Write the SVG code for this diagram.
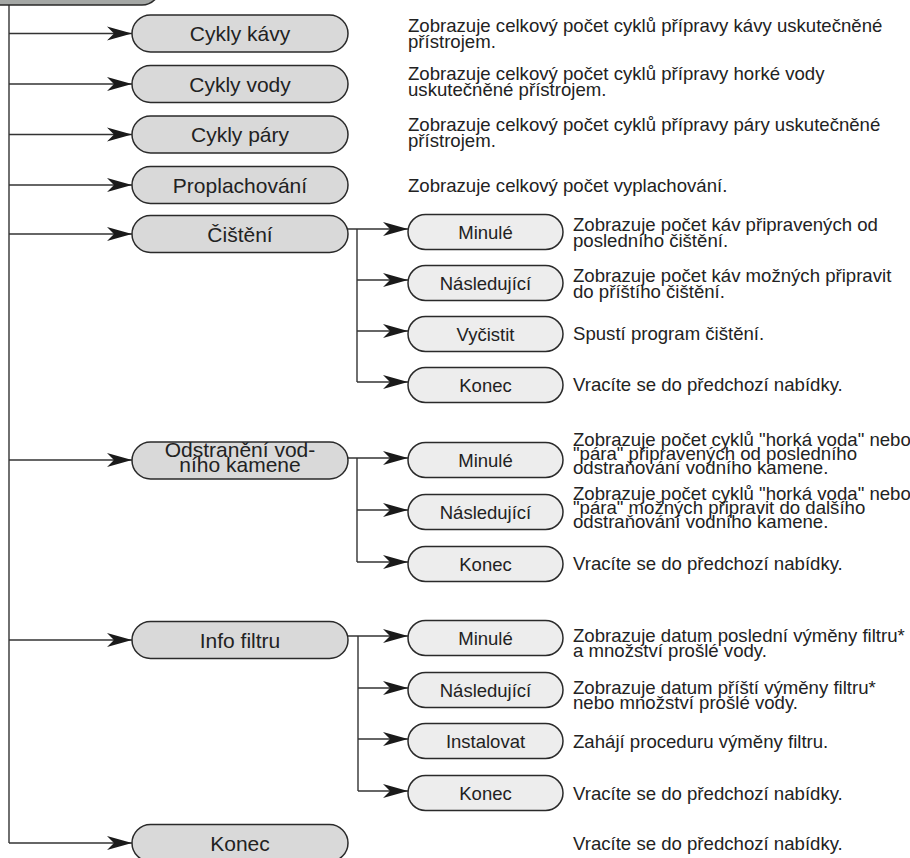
<svg xmlns="http://www.w3.org/2000/svg" width="910" height="858" viewBox="0 0 910 858">
<style>
.bg{fill:#ffffff}
.top{fill:#a4a7a5;stroke:#2a2a2a;stroke-width:1.5}
.main{fill:#d9d9d9;stroke:#2a2a2a;stroke-width:1.5}
.sub{fill:#ededed;stroke:#2a2a2a;stroke-width:1.5}
.ml{font-family:"Liberation Sans",Arial,sans-serif;font-size:21px;fill:#222;text-anchor:middle}
.sl{font-family:"Liberation Sans",Arial,sans-serif;font-size:18.5px;fill:#222;text-anchor:middle}
.d{font-family:"Liberation Sans",Arial,sans-serif;font-size:18.6px;fill:#222}
.c{fill:none;stroke:#333;stroke-width:1.4}
.a{fill:none;stroke:#333;stroke-width:1.4;marker-end:url(#ah)}
</style>
<defs>
<marker id="ah" viewBox="-26 -8 27 16" refX="0" refY="0" markerWidth="27" markerHeight="16" orient="auto" markerUnits="userSpaceOnUse">
<path d="M0,0 L-25,-7 L-18,0 L-25,7 Z" fill="#1a1a1a"/>
</marker>
</defs>
<rect class="bg" x="0" y="0" width="910" height="858"/>

<g id="connectors">
<path class="c" d="M9,5 V843"/>
<path class="a" d="M9,33.5 H132"/>
<path class="a" d="M9,84 H132"/>
<path class="a" d="M9,134.5 H132"/>
<path class="a" d="M9,185 H132"/>
<path class="a" d="M9,234 H132"/>
<path class="a" d="M9,460 H132"/>
<path class="a" d="M9,640 H132"/>
<path class="a" d="M9,843 H132"/>
<path class="a" d="M347,229 H408"/>
<path class="c" d="M357,229 V382"/>
<path class="a" d="M357,280 H408"/>
<path class="a" d="M357,331 H408"/>
<path class="a" d="M357,382 H408"/>
<path class="a" d="M348,458 H408"/>
<path class="c" d="M357,458 V562"/>
<path class="a" d="M357,510 H408"/>
<path class="a" d="M357,562 H408"/>
<path class="a" d="M348,636 H408"/>
<path class="c" d="M358,636 V791"/>
<path class="a" d="M358,688 H408"/>
<path class="a" d="M358,739 H408"/>
<path class="a" d="M358,791 H408"/>
</g>

<g id="top-menu"><rect class="top" x="-40" y="-40" width="200" height="45" rx="18"/></g>

<g id="cykly-kavy"><rect class="main" x="132" y="15" width="216" height="37" rx="18.5"/><text class="ml" x="240" y="41">Cykly kávy</text></g>
<g id="cykly-vody"><rect class="main" x="132" y="65.5" width="216" height="37" rx="18.5"/><text class="ml" x="240" y="91.5">Cykly vody</text></g>
<g id="cykly-pary"><rect class="main" x="132" y="116" width="216" height="37" rx="18.5"/><text class="ml" x="240" y="142">Cykly páry</text></g>
<g id="proplachovani"><rect class="main" x="132" y="166.5" width="216" height="37" rx="18.5"/><text class="ml" x="240" y="192.5">Proplachování</text></g>
<g id="cisteni"><rect class="main" x="132" y="215.5" width="216" height="37" rx="18.5"/><text class="ml" x="240" y="241.5">Čištění</text></g>
<g id="odstraneni"><rect class="main" x="132" y="442" width="216" height="37" rx="18.5"/><text class="ml" x="240" y="457">Odstranění vod-</text><text class="ml" x="240" y="472">ního kamene</text></g>
<g id="info-filtru"><rect class="main" x="132" y="621.5" width="216" height="37" rx="18.5"/><text class="ml" x="240" y="647.5">Info filtru</text></g>
<g id="konec"><rect class="main" x="132" y="824.5" width="216" height="37" rx="18.5"/><text class="ml" x="240" y="850.5">Konec</text></g>

<g id="cis-minule"><rect class="sub" x="408" y="214.5" width="155" height="35" rx="17.5"/><text class="sl" x="485.5" y="238.5">Minulé</text></g>
<g id="cis-nasledujici"><rect class="sub" x="408" y="265.5" width="155" height="35" rx="17.5"/><text class="sl" x="485.5" y="289.5">Následující</text></g>
<g id="cis-vycistit"><rect class="sub" x="408" y="316.5" width="155" height="35" rx="17.5"/><text class="sl" x="485.5" y="340.5">Vyčistit</text></g>
<g id="cis-konec"><rect class="sub" x="408" y="367.5" width="155" height="35" rx="17.5"/><text class="sl" x="485.5" y="391.5">Konec</text></g>

<g id="ods-minule"><rect class="sub" x="408" y="442.5" width="155" height="35" rx="17.5"/><text class="sl" x="485.5" y="466.5">Minulé</text></g>
<g id="ods-nasledujici"><rect class="sub" x="408" y="494.5" width="155" height="35" rx="17.5"/><text class="sl" x="485.5" y="518.5">Následující</text></g>
<g id="ods-konec"><rect class="sub" x="408" y="546.5" width="155" height="35" rx="17.5"/><text class="sl" x="485.5" y="570.5">Konec</text></g>

<g id="inf-minule"><rect class="sub" x="408" y="620.5" width="155" height="35" rx="17.5"/><text class="sl" x="485.5" y="644.5">Minulé</text></g>
<g id="inf-nasledujici"><rect class="sub" x="408" y="672.5" width="155" height="35" rx="17.5"/><text class="sl" x="485.5" y="696.5">Následující</text></g>
<g id="inf-instalovat"><rect class="sub" x="408" y="723.5" width="155" height="35" rx="17.5"/><text class="sl" x="485.5" y="747.5">Instalovat</text></g>
<g id="inf-konec"><rect class="sub" x="408" y="775.5" width="155" height="35" rx="17.5"/><text class="sl" x="485.5" y="799.5">Konec</text></g>

<g id="descriptions">
<text class="d" x="408" y="32">Zobrazuje celkový počet cyklů přípravy kávy uskutečněné</text>
<text class="d" x="408" y="48">přístrojem.</text>
<text class="d" x="408" y="80">Zobrazuje celkový počet cyklů přípravy horké vody</text>
<text class="d" x="408" y="96">uskutečněné přístrojem.</text>
<text class="d" x="408" y="131">Zobrazuje celkový počet cyklů přípravy páry uskutečněné</text>
<text class="d" x="408" y="147">přístrojem.</text>
<text class="d" x="408" y="191.5">Zobrazuje celkový počet vyplachování.</text>

<text class="d" x="573" y="231">Zobrazuje počet káv připravených od</text>
<text class="d" x="573" y="247">posledního čištění.</text>
<text class="d" x="573" y="282">Zobrazuje počet káv možných připravit</text>
<text class="d" x="573" y="298">do příštího čištění.</text>
<text class="d" x="573" y="340">Spustí program čištění.</text>
<text class="d" x="573" y="391">Vracíte se do předchozí nabídky.</text>

<text class="d" x="573" y="446">Zobrazuje počet cyklů "horká voda" nebo</text>
<text class="d" x="573" y="460">"pára" připravených od posledního</text>
<text class="d" x="573" y="474">odstraňování vodního kamene.</text>
<text class="d" x="573" y="500">Zobrazuje počet cyklů "horká voda" nebo</text>
<text class="d" x="573" y="514">"pára" možných připravit do dalšího</text>
<text class="d" x="573" y="528">odstraňování vodního kamene.</text>
<text class="d" x="573" y="570">Vracíte se do předchozí nabídky.</text>

<text class="d" x="573" y="642">Zobrazuje datum poslední výměny filtru*</text>
<text class="d" x="573" y="657">a množství prošlé vody.</text>
<text class="d" x="573" y="694">Zobrazuje datum příští výměny filtru*</text>
<text class="d" x="573" y="709">nebo množství prošlé vody.</text>
<text class="d" x="573" y="748">Zahájí proceduru výměny filtru.</text>
<text class="d" x="573" y="800">Vracíte se do předchozí nabídky.</text>

<text class="d" x="573" y="850">Vracíte se do předchozí nabídky.</text>
</g>
</svg>
